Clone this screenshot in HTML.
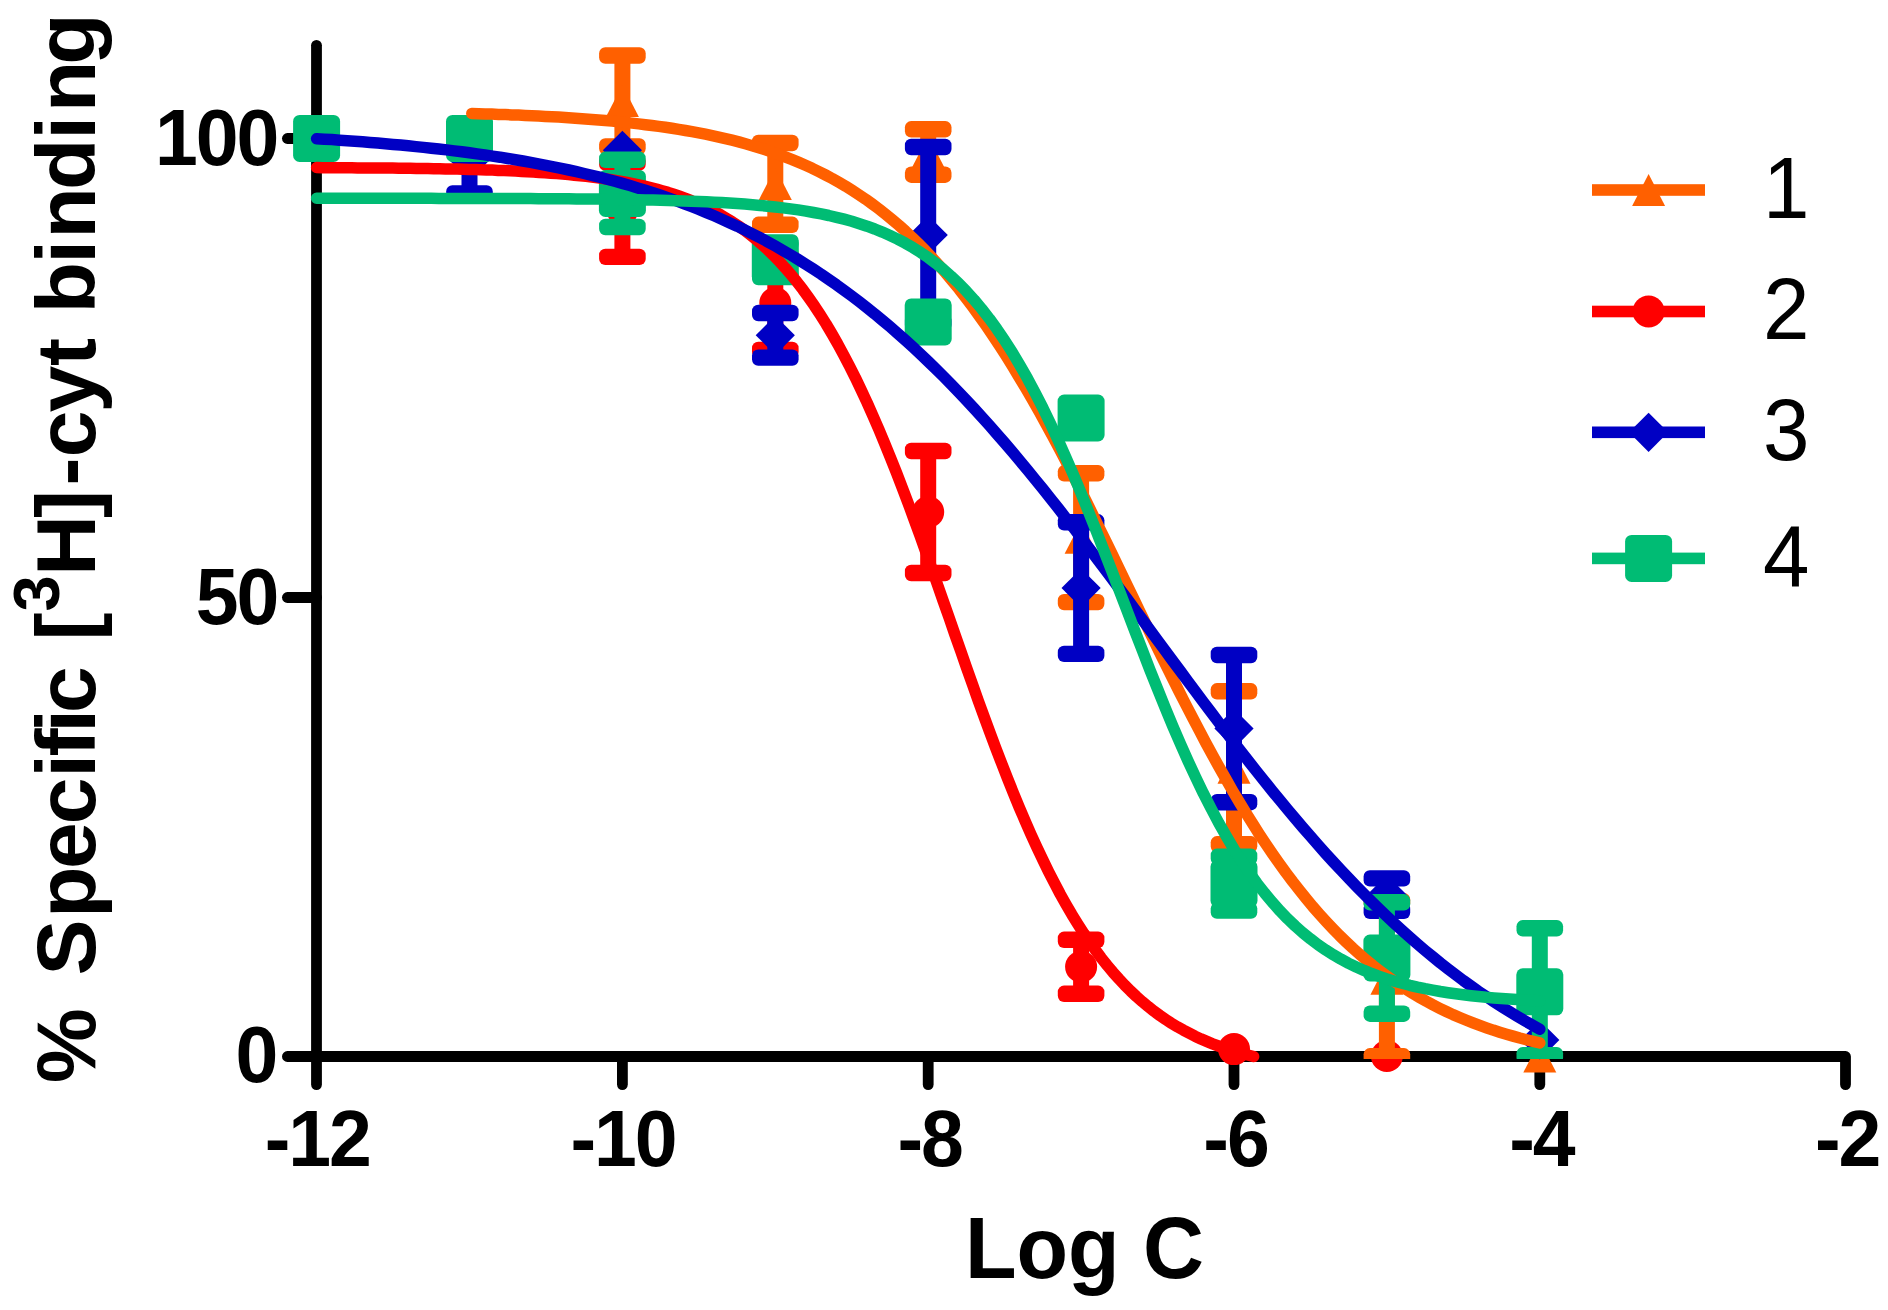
<!DOCTYPE html>
<html><head><meta charset="utf-8"><title>Log C binding curves</title>
<style>html,body{margin:0;padding:0;background:#fff}svg{display:block}text{font-family:"Liberation Sans",sans-serif;fill:#000}.b{font-weight:bold}</style></head>
<body>
<svg width="1888" height="1310" viewBox="0 0 1888 1310">
<rect width="1888" height="1310" fill="#fff"/>
<defs><clipPath id="eb"><rect x="0" y="0" width="1888" height="1059"/></clipPath></defs>
<g stroke="#000" stroke-width="10.8" stroke-linecap="round" stroke-linejoin="round" fill="none">
<path d="M316.5 45.3V1084.6"/>
<path d="M287.4 1056.5H1845.5V1084.6"/>
<path d="M622.4 1056.5V1084.6"/>
<path d="M928.2 1056.5V1084.6"/>
<path d="M1234.0 1056.5V1084.6"/>
<path d="M1539.8 1056.5V1084.6"/>
<path d="M287.4 138.5H316.5"/>
<path d="M287.4 597.5H316.5"/>
</g>
<text class="b" font-size="77" text-anchor="end" letter-spacing="-2.1" transform="translate(277.2 165.1) scale(1 1.045)">100</text>
<text class="b" font-size="77" text-anchor="end" letter-spacing="-2.1" transform="translate(277.2 624.1) scale(1 1.045)">50</text>
<text class="b" font-size="77" text-anchor="end" letter-spacing="-2.1" transform="translate(276.2 1082.3) scale(1 1.045)">0</text>
<text class="b" font-size="77" text-anchor="middle" letter-spacing="-2.1" transform="translate(317.3 1166.0) scale(1 1.045)">-12</text>
<text class="b" font-size="77" text-anchor="middle" letter-spacing="-2.1" transform="translate(622.9 1166.0) scale(1 1.045)">-10</text>
<text class="b" font-size="77" text-anchor="middle" letter-spacing="-2.1" transform="translate(929.7 1166.0) scale(1 1.045)">-8</text>
<text class="b" font-size="77" text-anchor="middle" letter-spacing="-2.1" transform="translate(1235.5 1166.0) scale(1 1.045)">-6</text>
<text class="b" font-size="77" text-anchor="middle" letter-spacing="-2.1" transform="translate(1541.3 1166.0) scale(1 1.045)">-4</text>
<text class="b" font-size="77" text-anchor="middle" letter-spacing="-2.1" transform="translate(1847.1 1166.0) scale(1 1.045)">-2</text>
<text class="b" font-size="84.4" text-anchor="middle" transform="translate(1084.5 1277.7) scale(1 1.03)">Log C</text>
<text class="b" font-size="84" transform="translate(95.4 0) rotate(-90) scale(1 1.0)" x="-1082.9 -1008.2 -975.5 -917.8 -868.9 -824.2 -777.6 -756.5 -732.5 -713.0 -666.3 -640.6" y="0">% Specific [<tspan font-size="65" x="-611.5" dy="-36.0">3</tspan><tspan x="-575.7 -517.9 -485.4 -457.2 -412.5 -366.1 -338.1 -313.2 -263.6 -238.6 -189.9 -139.5 -111.9 -64.7" dy="36.0">H]-cyt binding</tspan></text>
<g fill="#FF0000">
<g clip-path="url(#eb)">
<rect x="614.4" y="162.7" width="16" height="94.2"/>
<rect x="599.1" y="154.5" width="46.6" height="16.4" rx="6.2"/>
<rect x="599.1" y="248.7" width="46.6" height="16.4" rx="6.2"/>
<rect x="767.3" y="256.0" width="16" height="94.0"/>
<rect x="752.0" y="247.8" width="46.6" height="16.4" rx="6.2"/>
<rect x="752.0" y="341.8" width="46.6" height="16.4" rx="6.2"/>
<rect x="920.2" y="451.0" width="16" height="122.0"/>
<rect x="904.9" y="442.8" width="46.6" height="16.4" rx="6.2"/>
<rect x="904.9" y="564.8" width="46.6" height="16.4" rx="6.2"/>
<rect x="1073.1" y="939.8" width="16" height="54.0"/>
<rect x="1057.8" y="931.6" width="46.6" height="16.4" rx="6.2"/>
<rect x="1057.8" y="985.6" width="46.6" height="16.4" rx="6.2"/>
</g>
<circle cx="622.4" cy="209.8" r="16" fill="#FF0000"/>
<circle cx="775.3" cy="303.0" r="16" fill="#FF0000"/>
<circle cx="928.2" cy="512.0" r="16" fill="#FF0000"/>
<circle cx="1081.1" cy="966.8" r="16" fill="#FF0000"/>
<circle cx="1234.0" cy="1049.1" r="16" fill="#FF0000"/>
<circle cx="1386.9" cy="1056.0" r="16" fill="#FF0000"/>
</g>
<g fill="#FF6000">
<g clip-path="url(#eb)">
<rect x="614.4" y="55.5" width="16" height="91.0"/>
<rect x="599.1" y="47.3" width="46.6" height="16.4" rx="6.2"/>
<rect x="599.1" y="138.3" width="46.6" height="16.4" rx="6.2"/>
<rect x="767.3" y="143.0" width="16" height="81.8"/>
<rect x="752.0" y="134.8" width="46.6" height="16.4" rx="6.2"/>
<rect x="752.0" y="216.6" width="46.6" height="16.4" rx="6.2"/>
<rect x="920.2" y="129.3" width="16" height="45.4"/>
<rect x="904.9" y="121.1" width="46.6" height="16.4" rx="6.2"/>
<rect x="904.9" y="166.5" width="46.6" height="16.4" rx="6.2"/>
<rect x="1073.1" y="473.3" width="16" height="128.8"/>
<rect x="1057.8" y="465.1" width="46.6" height="16.4" rx="6.2"/>
<rect x="1057.8" y="593.9" width="46.6" height="16.4" rx="6.2"/>
<rect x="1226.0" y="691.3" width="16" height="153.0"/>
<rect x="1210.7" y="683.1" width="46.6" height="16.4" rx="6.2"/>
<rect x="1210.7" y="836.1" width="46.6" height="16.4" rx="6.2"/>
<rect x="1378.9" y="901.3" width="16" height="155.0"/>
<rect x="1363.6" y="893.1" width="46.6" height="16.4" rx="6.2"/>
<rect x="1363.6" y="1048.1" width="46.6" height="16.4" rx="6.2"/>
</g>
<polygon points="622.4,85.0 638.9,117.0 605.9,117.0" fill="#FF6000"/>
<polygon points="775.3,167.9 791.8,199.9 758.8,199.9" fill="#FF6000"/>
<polygon points="928.2,136.0 944.7,168.0 911.7,168.0" fill="#FF6000"/>
<polygon points="1081.1,521.7 1097.6,553.7 1064.6,553.7" fill="#FF6000"/>
<polygon points="1234.0,751.8 1250.5,783.8 1217.5,783.8" fill="#FF6000"/>
<polygon points="1386.9,962.8 1403.4,994.8 1370.4,994.8" fill="#FF6000"/>
<polygon points="1539.8,1040.5 1556.3,1072.5 1523.3,1072.5" fill="#FF6000"/>
</g>
<g fill="#0000C4">
<g clip-path="url(#eb)">
<rect x="461.5" y="128.0" width="16" height="65.4"/>
<rect x="446.2" y="119.8" width="46.6" height="16.4" rx="6.2"/>
<rect x="446.2" y="185.2" width="46.6" height="16.4" rx="6.2"/>
<rect x="767.3" y="313.0" width="16" height="44.6"/>
<rect x="752.0" y="304.8" width="46.6" height="16.4" rx="6.2"/>
<rect x="752.0" y="349.4" width="46.6" height="16.4" rx="6.2"/>
<rect x="920.2" y="147.0" width="16" height="176.0"/>
<rect x="904.9" y="138.8" width="46.6" height="16.4" rx="6.2"/>
<rect x="904.9" y="314.8" width="46.6" height="16.4" rx="6.2"/>
<rect x="1073.1" y="522.3" width="16" height="131.6"/>
<rect x="1057.8" y="514.1" width="46.6" height="16.4" rx="6.2"/>
<rect x="1057.8" y="645.7" width="46.6" height="16.4" rx="6.2"/>
<rect x="1226.0" y="655.0" width="16" height="147.2"/>
<rect x="1210.7" y="646.8" width="46.6" height="16.4" rx="6.2"/>
<rect x="1210.7" y="794.0" width="46.6" height="16.4" rx="6.2"/>
<rect x="1378.9" y="878.4" width="16" height="32.4"/>
<rect x="1363.6" y="870.2" width="46.6" height="16.4" rx="6.2"/>
<rect x="1363.6" y="902.6" width="46.6" height="16.4" rx="6.2"/>
</g>
<polygon points="316.6,118.9 336.2,138.5 316.6,158.1 297.0,138.5" fill="#0000C4"/>
<polygon points="469.5,141.1 489.1,160.7 469.5,180.3 449.9,160.7" fill="#0000C4"/>
<polygon points="622.4,130.7 642.0,150.3 622.4,169.9 602.8,150.3" fill="#0000C4"/>
<polygon points="775.3,315.7 794.9,335.3 775.3,354.9 755.7,335.3" fill="#0000C4"/>
<polygon points="928.2,215.4 947.8,235.0 928.2,254.6 908.6,235.0" fill="#0000C4"/>
<polygon points="1081.1,568.5 1100.7,588.1 1081.1,607.7 1061.5,588.1" fill="#0000C4"/>
<polygon points="1234.0,709.0 1253.6,728.6 1234.0,748.2 1214.4,728.6" fill="#0000C4"/>
<polygon points="1386.9,875.0 1406.5,894.6 1386.9,914.2 1367.3,894.6" fill="#0000C4"/>
<polygon points="1539.8,1020.4 1559.4,1040.0 1539.8,1059.6 1520.2,1040.0" fill="#0000C4"/>
</g>
<g fill="#00BC74">
<g clip-path="url(#eb)">
<rect x="614.4" y="159.8" width="16" height="67.2"/>
<rect x="599.1" y="151.6" width="46.6" height="16.4" rx="6.2"/>
<rect x="599.1" y="218.8" width="46.6" height="16.4" rx="6.2"/>
<rect x="767.3" y="242.4" width="16" height="34.5"/>
<rect x="752.0" y="234.2" width="46.6" height="16.4" rx="6.2"/>
<rect x="752.0" y="268.8" width="46.6" height="16.4" rx="6.2"/>
<rect x="1226.0" y="856.8" width="16" height="53.8"/>
<rect x="1210.7" y="848.6" width="46.6" height="16.4" rx="6.2"/>
<rect x="1210.7" y="902.4" width="46.6" height="16.4" rx="6.2"/>
<rect x="1378.9" y="902.3" width="16" height="111.4"/>
<rect x="1363.6" y="894.1" width="46.6" height="16.4" rx="6.2"/>
<rect x="1363.6" y="1005.5" width="46.6" height="16.4" rx="6.2"/>
<rect x="1531.8" y="928.3" width="16" height="127.0"/>
<rect x="1516.5" y="920.1" width="46.6" height="16.4" rx="6.2"/>
<rect x="1516.5" y="1047.1" width="46.6" height="16.4" rx="6.2"/>
</g>
<rect x="293.1" y="114.9" width="47" height="47" rx="6.5" fill="#00BC74"/>
<rect x="446.0" y="114.9" width="47" height="47" rx="6.5" fill="#00BC74"/>
<rect x="598.9" y="169.9" width="47" height="47" rx="6.5" fill="#00BC74"/>
<rect x="751.8" y="236.2" width="47" height="47" rx="6.5" fill="#00BC74"/>
<rect x="904.7" y="298.4" width="47" height="47" rx="6.5" fill="#00BC74"/>
<rect x="1057.6" y="394.5" width="47" height="47" rx="6.5" fill="#00BC74"/>
<rect x="1210.5" y="860.2" width="47" height="47" rx="6.5" fill="#00BC74"/>
<rect x="1363.4" y="934.5" width="47" height="47" rx="6.5" fill="#00BC74"/>
<rect x="1516.3" y="968.3" width="47" height="47" rx="6.5" fill="#00BC74"/>
</g>
<polyline points="316.6,167.6 322.5,167.7 328.3,167.7 334.2,167.7 340.0,167.7 345.9,167.8 351.7,167.8 357.6,167.9 363.4,167.9 369.3,167.9 375.2,168.0 381.0,168.0 386.9,168.1 392.7,168.1 398.6,168.2 404.4,168.3 410.3,168.3 416.2,168.4 422.0,168.5 427.9,168.6 433.7,168.7 439.6,168.8 445.4,168.9 451.3,169.0 457.1,169.1 463.0,169.3 468.9,169.4 474.7,169.6 480.6,169.8 486.4,169.9 492.3,170.1 498.1,170.4 504.0,170.6 509.9,170.8 515.7,171.1 521.6,171.4 527.4,171.7 533.3,172.0 539.1,172.4 545.0,172.8 550.8,173.2 556.7,173.6 562.6,174.1 568.4,174.6 574.3,175.2 580.1,175.8 586.0,176.4 591.8,177.1 597.7,177.8 603.5,178.6 609.4,179.5 615.3,180.4 621.1,181.4 627.0,182.5 632.8,183.6 638.7,184.8 644.5,186.1 650.4,187.5 656.3,189.0 662.1,190.7 668.0,192.4 673.8,194.3 679.7,196.3 685.5,198.4 691.4,200.7 697.2,203.2 703.1,205.8 709.0,208.6 714.8,211.6 720.7,214.8 726.5,218.3 732.4,221.9 738.2,225.8 744.1,230.0 749.9,234.5 755.8,239.2 761.7,244.3 767.5,249.6 773.4,255.3 779.2,261.4 785.1,267.8 790.9,274.6 796.8,281.7 802.7,289.3 808.5,297.4 814.4,305.8 820.2,314.7 826.1,324.0 831.9,333.8 837.8,344.1 843.6,354.9 849.5,366.1 855.4,377.8 861.2,390.0 867.1,402.6 872.9,415.8 878.8,429.3 884.6,443.3 890.5,457.7 896.4,472.5 902.2,487.6 908.1,503.1 913.9,518.9 919.8,534.9 925.6,551.2 931.5,567.6 937.3,584.2 943.2,601.0 949.1,617.7 954.9,634.5 960.8,651.2 966.6,667.9 972.5,684.4 978.3,700.8 984.2,716.9 990.0,732.8 995.9,748.5 1001.8,763.8 1007.6,778.7 1013.5,793.3 1019.3,807.5 1025.2,821.2 1031.0,834.5 1036.9,847.4 1042.8,859.8 1048.6,871.7 1054.5,883.2 1060.3,894.2 1066.2,904.7 1072.0,914.7 1077.9,924.2 1083.7,933.3 1089.6,942.0 1095.5,950.2 1101.3,958.0 1107.2,965.4 1113.0,972.3 1118.9,978.9 1124.7,985.1 1130.6,991.0 1136.4,996.5 1142.3,1001.7 1148.2,1006.6 1154.0,1011.2 1159.9,1015.5 1165.7,1019.5 1171.6,1023.3 1177.4,1026.8 1183.3,1030.1 1189.2,1033.2 1195.0,1036.2 1200.9,1038.9 1206.7,1041.4 1212.6,1043.8 1218.4,1046.0 1224.3,1048.0 1230.1,1050.0 1236.0,1051.8 1241.9,1053.4 1247.7,1055.0 1253.6,1056.5" fill="none" stroke="#FF0000" stroke-width="11.5" stroke-linecap="round" stroke-linejoin="round"/>
<polyline points="471.8,113.5 478.5,113.7 485.1,113.9 491.8,114.1 498.5,114.4 505.2,114.6 511.8,114.9 518.5,115.1 525.2,115.4 531.9,115.7 538.5,116.0 545.2,116.4 551.9,116.7 558.6,117.1 565.2,117.5 571.9,117.9 578.6,118.4 585.3,118.9 591.9,119.4 598.6,119.9 605.3,120.5 612.0,121.1 618.6,121.7 625.3,122.4 632.0,123.1 638.7,123.9 645.3,124.7 652.0,125.5 658.7,126.4 665.4,127.3 672.0,128.3 678.7,129.4 685.4,130.5 692.1,131.7 698.7,132.9 705.4,134.2 712.1,135.6 718.8,137.1 725.4,138.6 732.1,140.2 738.8,141.9 745.5,143.8 752.1,145.7 758.8,147.7 765.5,149.8 772.2,152.1 778.8,154.5 785.5,157.0 792.2,159.6 798.9,162.4 805.5,165.3 812.2,168.3 818.9,171.6 825.6,175.0 832.2,178.5 838.9,182.3 845.6,186.2 852.3,190.4 858.9,194.7 865.6,199.2 872.3,204.0 879.0,209.0 885.6,214.2 892.3,219.7 899.0,225.4 905.7,231.4 912.3,237.6 919.0,244.2 925.7,250.9 932.4,258.0 939.0,265.4 945.7,273.0 952.4,281.0 959.1,289.2 965.7,297.8 972.4,306.6 979.1,315.8 985.8,325.3 992.4,335.0 999.1,345.1 1005.8,355.5 1012.5,366.2 1019.1,377.2 1025.8,388.4 1032.5,399.9 1039.2,411.7 1045.8,423.8 1052.5,436.1 1059.2,448.6 1065.9,461.4 1072.5,474.3 1079.2,487.4 1085.9,500.7 1092.6,514.2 1099.2,527.7 1105.9,541.4 1112.6,555.1 1119.3,568.9 1125.9,582.7 1132.6,596.6 1139.3,610.4 1146.0,624.2 1152.6,637.9 1159.3,651.6 1166.0,665.1 1172.7,678.6 1179.3,691.9 1186.0,705.0 1192.7,717.9 1199.4,730.7 1206.0,743.2 1212.7,755.6 1219.4,767.6 1226.1,779.4 1232.7,791.0 1239.4,802.3 1246.1,813.2 1252.8,823.9 1259.4,834.3 1266.1,844.4 1272.8,854.2 1279.5,863.7 1286.1,872.9 1292.8,881.8 1299.5,890.3 1306.2,898.6 1312.8,906.6 1319.5,914.2 1326.2,921.6 1332.9,928.7 1339.5,935.5 1346.2,942.0 1352.9,948.3 1359.6,954.3 1366.2,960.0 1372.9,965.5 1379.6,970.7 1386.3,975.7 1392.9,980.5 1399.6,985.1 1406.3,989.4 1413.0,993.6 1419.6,997.5 1426.3,1001.3 1433.0,1004.9 1439.7,1008.3 1446.3,1011.5 1453.0,1014.6 1459.7,1017.5 1466.4,1020.3 1473.0,1022.9 1479.7,1025.4 1486.4,1027.8 1493.1,1030.1 1499.7,1032.2 1506.4,1034.2 1513.1,1036.1 1519.8,1038.0 1526.4,1039.7 1533.1,1041.3 1539.8,1042.9" fill="none" stroke="#FF6000" stroke-width="11.5" stroke-linecap="round" stroke-linejoin="round"/>
<polyline points="316.6,138.7 324.2,139.2 331.9,139.6 339.5,140.2 347.2,140.7 354.8,141.2 362.5,141.8 370.1,142.4 377.8,143.1 385.4,143.7 393.1,144.4 400.7,145.1 408.3,145.8 416.0,146.6 423.6,147.4 431.3,148.2 438.9,149.0 446.6,149.9 454.2,150.9 461.9,151.8 469.5,152.8 477.1,153.9 484.8,154.9 492.4,156.1 500.1,157.2 507.7,158.5 515.4,159.7 523.0,161.0 530.7,162.4 538.3,163.8 546.0,165.3 553.6,166.8 561.2,168.4 568.9,170.0 576.5,171.7 584.2,173.5 591.8,175.3 599.5,177.2 607.1,179.2 614.8,181.3 622.4,183.4 630.0,185.6 637.7,187.9 645.3,190.3 653.0,192.7 660.6,195.3 668.3,197.9 675.9,200.6 683.6,203.5 691.2,206.4 698.9,209.4 706.5,212.6 714.1,215.8 721.8,219.2 729.4,222.7 737.1,226.2 744.7,229.9 752.4,233.8 760.0,237.7 767.7,241.8 775.3,246.0 782.9,250.4 790.6,254.9 798.2,259.5 805.9,264.3 813.5,269.2 821.2,274.2 828.8,279.5 836.5,284.8 844.1,290.3 851.8,296.0 859.4,301.8 867.0,307.8 874.7,313.9 882.3,320.2 890.0,326.7 897.6,333.3 905.3,340.1 912.9,347.1 920.6,354.2 928.2,361.5 935.8,368.9 943.5,376.5 951.1,384.3 958.8,392.2 966.4,400.2 974.1,408.5 981.7,416.9 989.4,425.4 997.0,434.1 1004.7,442.9 1012.3,451.8 1019.9,460.9 1027.6,470.1 1035.2,479.5 1042.9,488.9 1050.5,498.5 1058.2,508.1 1065.8,517.9 1073.5,527.8 1081.1,537.7 1088.7,547.8 1096.4,557.9 1104.0,568.0 1111.7,578.2 1119.3,588.5 1127.0,598.8 1134.6,609.1 1142.3,619.5 1149.9,629.9 1157.6,640.3 1165.2,650.6 1172.8,661.0 1180.5,671.3 1188.1,681.6 1195.8,691.9 1203.4,702.1 1211.1,712.3 1218.7,722.4 1226.4,732.5 1234.0,742.4 1241.6,752.3 1249.3,762.1 1256.9,771.8 1264.6,781.3 1272.2,790.8 1279.9,800.2 1287.5,809.4 1295.2,818.5 1302.8,827.5 1310.5,836.3 1318.1,845.0 1325.7,853.6 1333.4,862.0 1341.0,870.2 1348.7,878.3 1356.3,886.2 1364.0,894.0 1371.6,901.6 1379.3,909.1 1386.9,916.4 1394.5,923.5 1402.2,930.5 1409.8,937.3 1417.5,944.0 1425.1,950.5 1432.8,956.8 1440.4,963.0 1448.1,969.0 1455.7,974.8 1463.3,980.5 1471.0,986.0 1478.6,991.4 1486.3,996.6 1493.9,1001.7 1501.6,1006.7 1509.2,1011.4 1516.9,1016.1 1524.5,1020.6 1532.2,1025.0 1539.8,1029.2" fill="none" stroke="#0000C4" stroke-width="11.5" stroke-linecap="round" stroke-linejoin="round"/>
<polyline points="316.6,198.3 324.2,198.3 331.9,198.3 339.5,198.3 347.2,198.3 354.8,198.3 362.5,198.3 370.1,198.3 377.8,198.3 385.4,198.3 393.1,198.3 400.7,198.3 408.3,198.3 416.0,198.3 423.6,198.3 431.3,198.3 438.9,198.4 446.6,198.4 454.2,198.4 461.9,198.4 469.5,198.4 477.1,198.4 484.8,198.4 492.4,198.5 500.1,198.5 507.7,198.5 515.4,198.5 523.0,198.6 530.7,198.6 538.3,198.7 546.0,198.7 553.6,198.7 561.2,198.8 568.9,198.8 576.5,198.9 584.2,199.0 591.8,199.1 599.5,199.1 607.1,199.2 614.8,199.3 622.4,199.5 630.0,199.6 637.7,199.7 645.3,199.9 653.0,200.0 660.6,200.2 668.3,200.4 675.9,200.7 683.6,200.9 691.2,201.2 698.9,201.5 706.5,201.8 714.1,202.2 721.8,202.6 729.4,203.1 737.1,203.6 744.7,204.1 752.4,204.7 760.0,205.4 767.7,206.2 775.3,207.0 782.9,207.9 790.6,208.9 798.2,209.9 805.9,211.1 813.5,212.5 821.2,213.9 828.8,215.5 836.5,217.3 844.1,219.2 851.8,221.3 859.4,223.7 867.0,226.2 874.7,229.0 882.3,232.1 890.0,235.5 897.6,239.1 905.3,243.2 912.9,247.6 920.6,252.4 928.2,257.6 935.8,263.3 943.5,269.5 951.1,276.2 958.8,283.4 966.4,291.3 974.1,299.8 981.7,308.9 989.4,318.7 997.0,329.2 1004.7,340.5 1012.3,352.4 1019.9,365.2 1027.6,378.7 1035.2,393.0 1042.9,408.0 1050.5,423.7 1058.2,440.2 1065.8,457.3 1073.5,475.0 1081.1,493.3 1088.7,512.1 1096.4,531.3 1104.0,550.8 1111.7,570.6 1119.3,590.5 1127.0,610.5 1134.6,630.4 1142.3,650.2 1149.9,669.8 1157.6,689.0 1165.2,707.9 1172.8,726.2 1180.5,744.0 1188.1,761.1 1195.8,777.6 1203.4,793.4 1211.1,808.5 1218.7,822.9 1226.4,836.4 1234.0,849.2 1241.6,861.3 1249.3,872.6 1256.9,883.2 1264.6,893.0 1272.2,902.2 1279.9,910.8 1287.5,918.7 1295.2,926.0 1302.8,932.7 1310.5,938.9 1318.1,944.7 1325.7,949.9 1333.4,954.8 1341.0,959.2 1348.7,963.3 1356.3,967.0 1364.0,970.4 1371.6,973.5 1379.3,976.3 1386.9,978.9 1394.5,981.2 1402.2,983.3 1409.8,985.3 1417.5,987.1 1425.1,988.7 1432.8,990.1 1440.4,991.5 1448.1,992.7 1455.7,993.8 1463.3,994.8 1471.0,995.7 1478.6,996.5 1486.3,997.3 1493.9,997.9 1501.6,998.5 1509.2,999.1 1516.9,999.6 1524.5,1000.1 1532.2,1000.5 1539.8,1000.9" fill="none" stroke="#00BC74" stroke-width="11.5" stroke-linecap="round" stroke-linejoin="round"/>
<rect x="1592" y="184.2" width="113" height="11.6" fill="#FF6000"/>
<polygon points="1648.6,174.0 1665.1,206.0 1632.1,206.0" fill="#FF6000"/>
<text font-size="83.5" text-anchor="start" transform="translate(1763.0 217.9) scale(1 1.045)">1</text>
<rect x="1592" y="305.7" width="113" height="11.6" fill="#FF0000"/>
<circle cx="1648.6" cy="311.5" r="16" fill="#FF0000"/>
<text font-size="83.5" text-anchor="start" transform="translate(1763.0 339.0) scale(1 1.045)">2</text>
<rect x="1592" y="426.5" width="113" height="11.6" fill="#0000C4"/>
<polygon points="1648.6,412.7 1668.2,432.3 1648.6,451.9 1629.0,432.3" fill="#0000C4"/>
<text font-size="83.5" text-anchor="start" transform="translate(1763.0 460.2) scale(1 1.045)">3</text>
<rect x="1592" y="552.6" width="113" height="11.6" fill="#00BC74"/>
<rect x="1625.1" y="534.9" width="47" height="47" rx="6.5" fill="#00BC74"/>
<text font-size="83.5" text-anchor="start" transform="translate(1763.0 587.0) scale(1 1.045)">4</text>
</svg></body></html>
